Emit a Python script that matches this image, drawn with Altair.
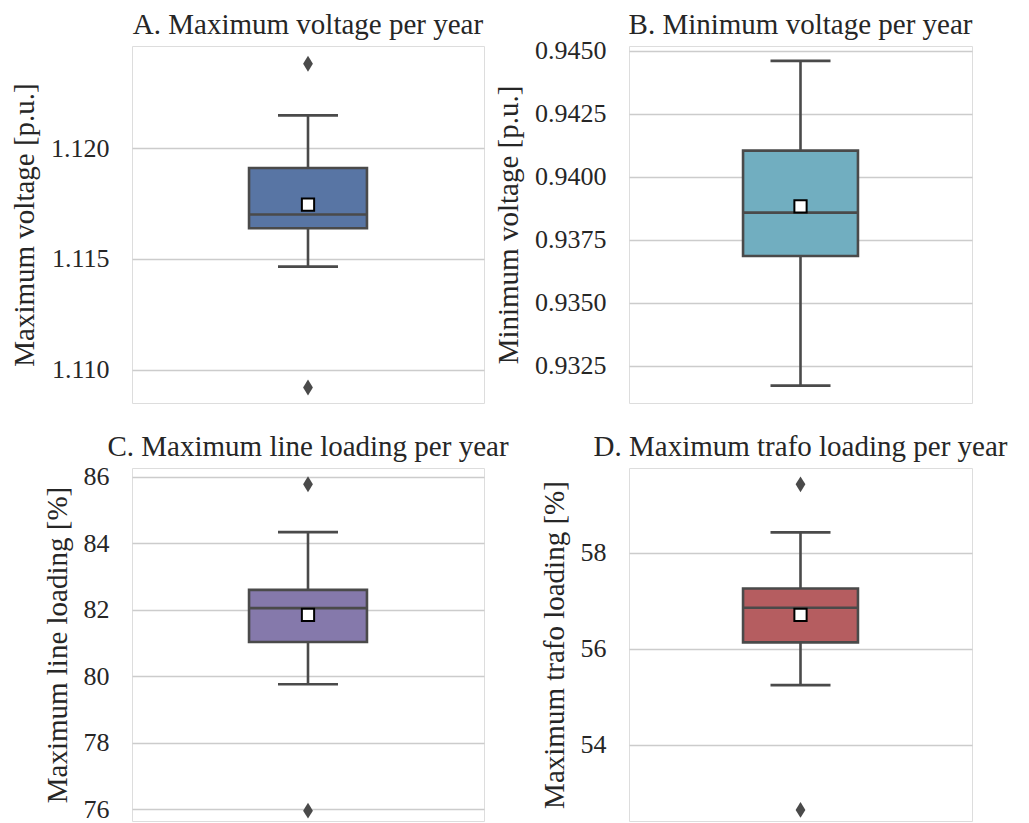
import altair as alt
import pandas as pd

# ---- data ----
titles = ["A. Maximum voltage per year", "B. Minimum voltage per year",
          "C. Maximum line loading per year", "D. Maximum trafo loading per year"]
ylabels = ["Maximum voltage [p.u.]", "Minimum voltage [p.u.]",
           "Maximum line loading [%]", "Maximum trafo loading [%]"]
whisker_low = [1.11465, 0.93171, 79.76, 55.24]
q1 = [1.11638, 0.93685, 81.03, 56.13]
median = [1.11700, 0.93857, 82.05, 56.85]
q3 = [1.11910, 0.94103, 82.60, 57.25]
whisker_high = [1.12147, 0.94459, 84.34, 58.42]
mean = [1.11745, 0.93882, 81.85, 56.70]
outliers = [[1.1092, 1.1238], [], [75.95, 85.78], [52.64, 59.42]]
domains = [[1.1085, 1.1246], [0.93102, 0.94518], [75.64, 86.27], [52.41, 59.76]]
tick_values = [[1.110, 1.115, 1.120],
               [0.9325, 0.9350, 0.9375, 0.9400, 0.9425, 0.9450],
               [76, 78, 80, 82, 84, 86],
               [54, 56, 58]]
tick_formats = [".3f", ".4f", "d", "d"]
colors = ["#5875A4", "#71AEC0", "#8579AB", "#B55D60"]

FONT = "Liberation Serif"
TEXT = "#262626"
EDGE = "#4a4a4a"
GRID = "#cccccc"
DIAMOND = "M0,-1L0.62,0L0,1L-0.62,0Z"
# title offsets compensate for tick labels that poke above the plot top
title_offsets = [6, -2.5, 2, 6]


def panel(i, width, height):
    stats = pd.DataFrame({
        "cat": ["box"],
        "wlo": [whisker_low[i]], "q1": [q1[i]], "med": [median[i]],
        "q3": [q3[i]], "whi": [whisker_high[i]], "mean": [mean[i]],
    })
    outl = pd.DataFrame({"cat": ["box"] * len(outliers[i]), "v": outliers[i]})

    x = alt.X("cat:N", axis=None,
              scale=alt.Scale(paddingInner=0, paddingOuter=0))
    yscale = alt.Scale(domain=domains[i], nice=False, zero=False)
    yaxis = alt.Axis(values=tick_values[i], format=tick_formats[i], title=ylabels[i],
                     grid=True, gridColor=GRID, gridWidth=1.5, domain=False, ticks=False,
                     labelPadding=23, labelFontSize=26, labelFont=FONT, labelColor=TEXT,
                     titleFont=FONT, titleFontSize=29, titleFontWeight="normal",
                     titleColor=TEXT, titlePadding=11)

    base = alt.Chart(stats)
    box_px = 0.335 * width
    box = base.mark_bar(width={"band": 0.335}, fill=colors[i], stroke=EDGE,
                        strokeWidth=2.6).encode(
        x=x, y=alt.Y("q1:Q", scale=yscale, axis=yaxis), y2="q3:Q")
    w1 = base.mark_rule(color=EDGE, strokeWidth=2.6).encode(
        x=x, y=alt.Y("wlo:Q"), y2="q1:Q")
    w2 = base.mark_rule(color=EDGE, strokeWidth=2.6).encode(
        x=x, y=alt.Y("q3:Q"), y2="whi:Q")
    c1 = base.mark_tick(color=EDGE, size=60, thickness=2.6, opacity=1).encode(
        x=x, y=alt.Y("wlo:Q"))
    c2 = base.mark_tick(color=EDGE, size=60, thickness=2.6, opacity=1).encode(
        x=x, y=alt.Y("whi:Q"))
    med = base.mark_tick(color=EDGE, size=box_px, thickness=2.6, opacity=1).encode(
        x=x, y=alt.Y("med:Q"))
    mn = base.mark_point(shape="square", size=150, filled=True, fill="white",
                         stroke="black", strokeWidth=2, opacity=1).encode(
        x=x, y=alt.Y("mean:Q"))
    layers = [box, w1, w2, c1, c2, med, mn]
    if len(outliers[i]):
        out = alt.Chart(outl).mark_point(shape=DIAMOND, size=250, filled=True,
                                          color=EDGE, opacity=1).encode(
            x=x, y=alt.Y("v:Q"))
        layers.append(out)
    return alt.layer(*layers).properties(
        width=width, height=height,
        title=alt.TitleParams(titles[i], font=FONT, fontSize=29, fontWeight="normal",
                              color=TEXT, anchor="middle", frame="group",
                              offset=title_offsets[i]),
    )


chart = alt.concat(
    panel(0, 352, 357), panel(1, 343, 357),
    panel(2, 352, 353), panel(3, 343, 353),
    columns=2, spacing={"row": 65, "column": 145}, bounds="flush",
).properties(
    padding={"left": 10, "top": 10, "right": 0, "bottom": 0},
).configure_view(
    stroke=GRID, strokeWidth=2.4,
).configure(background="white")

chart.save("out.html", embed_options={"renderer": "svg", "actions": False})
